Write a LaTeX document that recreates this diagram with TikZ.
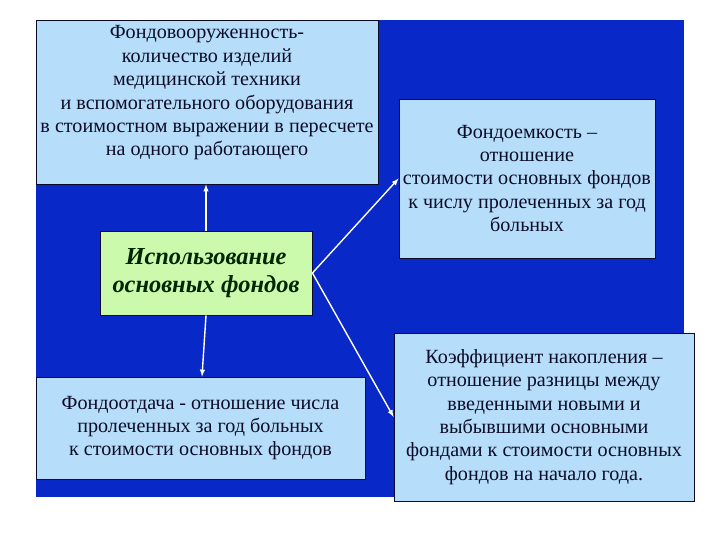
\documentclass[tikz,border=0pt]{standalone}
\usepackage{fontspec}
\setmainfont{Liberation Serif}
\usetikzlibrary{arrows}

\definecolor{fon}{RGB}{8,40,200}
\definecolor{yach}{RGB}{182,222,250}
\definecolor{zel}{RGB}{204,250,172}
\definecolor{tekst}{RGB}{12,12,40}

\begin{document}
\begin{tikzpicture}[x=1bp, y=-1bp,
    yach/.style={draw=tekst, fill=yach, line width=0.8bp, inner sep=0pt},
    txt/.style={align=center, text=tekst, font=\fontsize{20.2}{23.5}\selectfont},
    strel/.style={white, line width=1.4bp, -latex}]
    \useasboundingbox (0,0) rectangle (720,540);
    \fill[fon] (36,20) rectangle (684,497);
    % boxes
    \node[yach, minimum width=342bp, minimum height=164bp] (vooruzh) at (207,102) {};
    \node[txt] (vooruzhtxt) at (207,93) {Фондовооруженность-\\количество изделий\\медицинской техники\\
        и вспомогательного оборудования\\в стоимостном выражении в пересчете\\на одного работающего};
    \node[yach, txt, minimum width=256bp, minimum height=159bp] (emkost) at (527,178.5)
        {Фондоемкость –\\отношение\\стоимости основных фондов\\к числу пролеченных за год\\больных};
    \node[yach, txt, minimum width=329bp, minimum height=102bp] (otdacha) at (200.5,428)
        {Фондоотдача - отношение числа\\пролеченных за год больных\\к стоимости основных фондов};
    \node[yach, txt, minimum width=300bp, minimum height=168bp] (nakopl) at (544,417)
        {Коэффициент накопления –\\отношение разницы между\\введенными новыми и\\выбывшими основными\\
        фондами к стоимости основных\\фондов на начало года.};
    \node[yach, fill=zel, align=center, text=black!85!green,
        font=\fontsize{24.5}{28}\selectfont\bfseries\itshape,
        minimum width=212bp, minimum height=84bp] (ispolz) at (206,273)
        {Использование\\основных фондов};
    % arrows
    \draw[strel] (ispolz.north) -- (ispolz.north |- vooruzh.south);
    \draw[strel] (ispolz.east) -- (emkost.west);
    \draw[strel] (ispolz.east) -- (nakopl.west);
    \draw[strel] (ispolz.south) -- ([xshift=1.5bp]otdacha.north);
\end{tikzpicture}
\end{document}
